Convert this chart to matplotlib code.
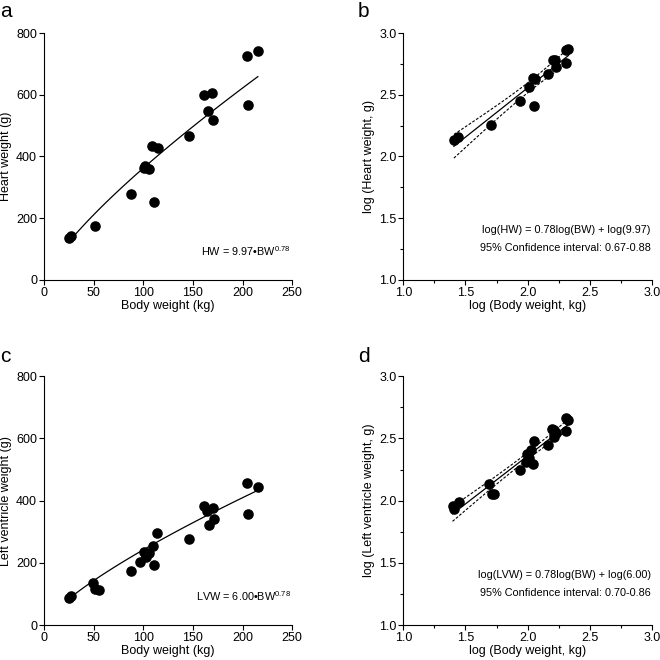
import numpy as np
import matplotlib
matplotlib.use("Agg")
import matplotlib.pyplot as plt
from matplotlib.ticker import MultipleLocator

plt.rcParams['font.family'] = ['Liberation Sans', 'DejaVu Sans']
plt.rcParams['mathtext.fontset'] = 'custom'
plt.rcParams['mathtext.rm'] = 'Liberation Sans'

# Panel a: body weight (kg) vs heart weight (g)
bw_a = [24.9, 27.6, 51, 87.4, 100.8, 102, 105.5, 110.9, 109.2, 114.9,
        146.2, 161, 169.7, 165.3, 170.7, 204.3, 205.3, 215.4]
hw_a = [135, 142, 175, 279, 363, 369, 360, 252, 433, 427,
        465, 598, 605, 546, 517, 725, 566, 742]
# drawn power curve (coefficient, exponent) as seen on the chart
curve_a = (9.97, 0.78)

# Panel b: log values
logbw_b = [1.407, 1.442, 1.707, 1.940, 2.009, 2.041, 2.047, 2.055, 2.165,
           2.205, 2.223, 2.226, 2.312, 2.309, 2.328]
loghw_b = [2.132, 2.159, 2.251, 2.447, 2.563, 2.636, 2.407, 2.631, 2.671,
           2.779, 2.779, 2.722, 2.757, 2.865, 2.871]

# Panel c: body weight (kg) vs left ventricle weight (g)
bw_c = [24.9, 27.6, 49.4, 51.7, 55, 87.4, 97, 100.5, 103, 105.8, 109.9,
        110.9, 114.2, 146.5, 161, 164, 170, 165.7, 171.4, 204.6, 205.6, 215.7]
lvw_c = [86, 94, 134, 115, 112, 174, 202, 236, 220, 233, 254,
         192, 296, 276, 383, 366, 377, 323, 341, 457, 356, 444]
curve_c = (7.3, 0.76)

# Panel d: log values
logbw_d = [1.396, 1.407, 1.447, 1.691, 1.712, 1.731, 1.940, 1.983, 1.996,
           2.012, 2.028, 2.044, 2.050, 2.162, 2.199, 2.215, 2.215, 2.231,
           2.312, 2.306, 2.328]
loglvw_d = [1.958, 1.934, 1.985, 2.133, 2.052, 2.052, 2.243, 2.307, 2.377,
            2.342, 2.404, 2.294, 2.482, 2.450, 2.579, 2.570, 2.511, 2.544,
            2.557, 2.664, 2.651]

FS = 9

fig = plt.figure(figsize=(6.6, 6.6), dpi=100)

def style(ax):
    for s in ['top', 'right']:
        ax.spines[s].set_visible(False)
    for s in ['left', 'bottom']:
        ax.spines[s].set_linewidth(0.8)
    ax.tick_params(which='major', direction='out', length=3.5, width=0.8,
                   labelsize=FS, pad=1.5)
    ax.tick_params(which='minor', direction='out', length=2, width=0.8)

def power_panel(rect, bw, w, curve, ylabel, eq):
    ax = fig.add_axes(rect)
    bw = np.asarray(bw)
    ax.scatter(bw, w, s=58, color='black', zorder=3, linewidths=0)
    k, m = curve
    xs = np.linspace(bw.min(), bw.max(), 100)
    ax.plot(xs, k * xs ** m, color='black', lw=0.9)
    ax.set_xlim(0, 250)
    ax.set_ylim(0, 800)
    ax.set_xticks([0, 50, 100, 150, 200, 250])
    ax.set_yticks([0, 200, 400, 600, 800])
    ax.set_xlabel("Body weight (kg)", fontsize=FS, labelpad=1)
    ax.set_ylabel(ylabel, fontsize=FS, labelpad=3)
    ax.text(0.995, 0.115, eq, transform=ax.transAxes, ha='right', va='center',
            fontsize=7.8)
    style(ax)
    return ax

def log_panel(rect, x, y, tval, ylabel, eq, ci):
    ax = fig.add_axes(rect)
    x = np.asarray(x)
    y = np.asarray(y)
    ax.scatter(x, y, s=58, color='black', zorder=3, linewidths=0)
    m, c = np.polyfit(x, y, 1)
    xs = np.linspace(x.min(), x.max(), 100)
    fit = m * xs + c
    res = y - (m * x + c)
    n = len(x)
    se = np.sqrt(np.sum(res ** 2) / (n - 2))
    sxx = np.sum((x - x.mean()) ** 2)
    band = tval * se * np.sqrt(1 / n + (xs - x.mean()) ** 2 / sxx)
    ax.plot(xs, fit, color='black', lw=0.9)
    ax.plot(xs, fit + band, color='black', lw=0.8, ls=(0, (2.5, 1.5)))
    ax.plot(xs, fit - band, color='black', lw=0.8, ls=(0, (2.5, 1.5)))
    ax.set_xlim(1.0, 3.0)
    ax.set_ylim(1.0, 3.0)
    ax.xaxis.set_major_locator(MultipleLocator(0.5))
    ax.yaxis.set_major_locator(MultipleLocator(0.5))
    ax.xaxis.set_minor_locator(MultipleLocator(0.25))
    ax.yaxis.set_minor_locator(MultipleLocator(0.25))
    ax.xaxis.set_major_formatter(lambda v, p: f"{v:.1f}")
    ax.yaxis.set_major_formatter(lambda v, p: f"{v:.1f}")
    ax.set_xlabel("log (Body weight, kg)", fontsize=FS, labelpad=1)
    ax.set_ylabel(ylabel, fontsize=FS, labelpad=3)
    ax.text(0.995, 0.20, eq, transform=ax.transAxes, ha='right', va='center',
            fontsize=7.8)
    ax.text(0.995, 0.128, ci, transform=ax.transAxes, ha='right', va='center',
            fontsize=7.8)
    style(ax)
    return ax

power_panel([0.0667, 0.576, 0.376, 0.374], bw_a, hw_a, curve_a,
            "Heart weight (g)", "HW = 9.97\u2022BW$^{0.78}$")
log_panel([0.611, 0.576, 0.377, 0.374], logbw_b, loghw_b, 2.16,
          "log (Heart weight, g)", "log(HW) = 0.78log(BW) + log(9.97)",
          "95% Confidence interval: 0.67-0.88")
power_panel([0.0667, 0.053, 0.376, 0.377], bw_c, lvw_c, curve_c,
            "Left ventricle weight (g)", "LVW = 6.00\u2022BW$^{0.78}$")
log_panel([0.611, 0.053, 0.377, 0.377], logbw_d, loglvw_d, 2.09,
          "log (Left ventricle weight, g)", "log(LVW) = 0.78log(BW) + log(6.00)",
          "95% Confidence interval: 0.70-0.86")

for lbl, x, y in [("a", 0.0, 0.974), ("b", 0.542, 0.974),
                  ("c", 0.0, 0.452), ("d", 0.542, 0.452)]:
    fig.text(x, y, lbl, fontsize=15, ha='left', va='baseline')

fig.savefig("out.png", dpi=100)
